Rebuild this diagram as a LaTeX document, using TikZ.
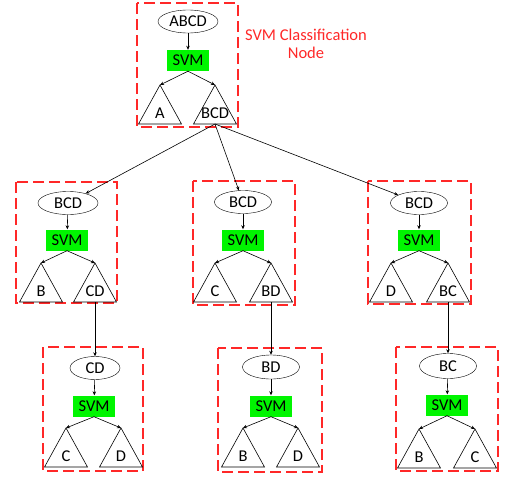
\documentclass[tikz,border=0pt]{standalone}
\usepackage{fontspec}
\setmainfont{Carlito}
\usetikzlibrary{shapes.geometric,arrows.meta}
\definecolor{boxred}{RGB}{255,40,40}
\definecolor{svmgreen}{RGB}{0,245,0}
\tikzset{
  x=1pt,y=-1pt,
  every node/.style={font=\fontsize{16.5}{18.5}\selectfont},
  ell/.style={draw,ellipse,inner sep=0pt,minimum width=58pt,minimum height=23pt},
  svm/.style={fill=svmgreen,inner sep=0pt,minimum width=42pt,minimum height=21pt},
  modbox/.style={draw=boxred,line width=1.3pt,dash pattern=on 11pt off 5pt},
  arr/.style={-{Stealth[length=4pt,width=3.5pt]},line width=0.6pt},
  tri/.pic={
    \coordinate (-apex) at (0,0);
    \coordinate (-base) at (0,39);
    \draw[line width=0.6pt] (0,0) -- (-21.5,39) -- (21.5,39) -- cycle;
    \node at (0,28) {#1};
  }
}
\begin{document}
\begin{tikzpicture}
\useasboundingbox (0,0) rectangle (509,479);
% top module
\draw[modbox] (137,3) rectangle (238,127);
\node[ell,minimum width=60pt] (e0) at (188,21.5) {ABCD};
\node[svm] (s0) at (188,60.5) {SVM};
\pic (t0a) at (160,85) {tri=A};
\pic (t0b) at (215,85) {tri=BCD};
\draw[arr] (e0) -- (s0);
\draw[arr] (s0.south) -- (t0a-apex);
\draw[arr] (s0.south) -- (t0b-apex);
\node[text=boxred,align=center] (lab) at (306,44) {SVM Classification\\Node};
% middle left
\draw[modbox] (16,182) rectangle (117,303);
\node[ell,minimum width=60pt] (e1) at (68,203) {BCD};
\node[svm] (s1) at (67,240) {SVM};
\pic (t1a) at (41,263) {tri=B};
\pic (t1b) at (95,263) {tri=CD};
\draw[arr] (e1) -- (s1);
\draw[arr] (s1.south) -- (t1a-apex);
\draw[arr] (s1.south) -- (t1b-apex);
% middle middle
\draw[modbox] (193,181) rectangle (295,305);
\node[ell,minimum width=57pt] (e2) at (243,202) {BCD};
\node[svm] (s2) at (243,240) {SVM};
\pic (t2a) at (215,263) {tri=C};
\pic (t2b) at (271,263) {tri=BD};
\draw[arr] (e2) -- (s2);
\draw[arr] (s2.south) -- (t2a-apex);
\draw[arr] (s2.south) -- (t2b-apex);
% middle right
\draw[modbox] (368,181) rectangle (471,304);
\node[ell,minimum width=57pt] (e3) at (419,203) {BCD};
\node[svm] (s3) at (419,240) {SVM};
\pic (t3a) at (391,263) {tri=D};
\pic (t3b) at (448,263) {tri=BC};
\draw[arr] (e3) -- (s3);
\draw[arr] (s3.south) -- (t3a-apex);
\draw[arr] (s3.south) -- (t3b-apex);
% bottom left
\draw[modbox] (43,347) rectangle (143,471);
\node[ell,minimum width=50pt] (e4) at (95,368) {CD};
\node[svm] (s4) at (94,406) {SVM};
\pic (t4a) at (66,428) {tri=C};
\pic (t4b) at (121,428) {tri=D};
\draw[arr] (e4) -- (s4);
\draw[arr] (s4.south) -- (t4a-apex);
\draw[arr] (s4.south) -- (t4b-apex);
% bottom middle
\draw[modbox] (218,348) rectangle (322,472);
\node[ell,minimum width=57pt,minimum height=24pt] (e5) at (271,367) {BD};
\node[svm] (s5) at (271,406) {SVM};
\pic (t5a) at (243,428) {tri=B};
\pic (t5b) at (298,428) {tri=D};
\draw[arr] (e5) -- (s5);
\draw[arr] (s5.south) -- (t5a-apex);
\draw[arr] (s5.south) -- (t5b-apex);
% bottom right
\draw[modbox] (396,347) rectangle (498,471);
\node[ell,minimum width=57pt,minimum height=25pt] (e6) at (448,366) {BC};
\node[svm] (s6) at (447,405) {SVM};
\pic (t6a) at (419,429) {tri=B};
\pic (t6b) at (475,429) {tri=C};
\draw[arr] (e6) -- (s6);
\draw[arr] (s6.south) -- (t6a-apex);
\draw[arr] (s6.south) -- (t6b-apex);
% connections between modules
\draw[arr] (t0b-base) -- (e1);
\draw[arr] (t0b-base) -- (e2);
\draw[arr] (t0b-base) -- (e3);
\draw[arr] (t1b-base) -- (e4);
\draw[arr] (t2b-base) -- (e5);
\draw[arr] (t3b-base) -- (e6);
\end{tikzpicture}
\end{document}
